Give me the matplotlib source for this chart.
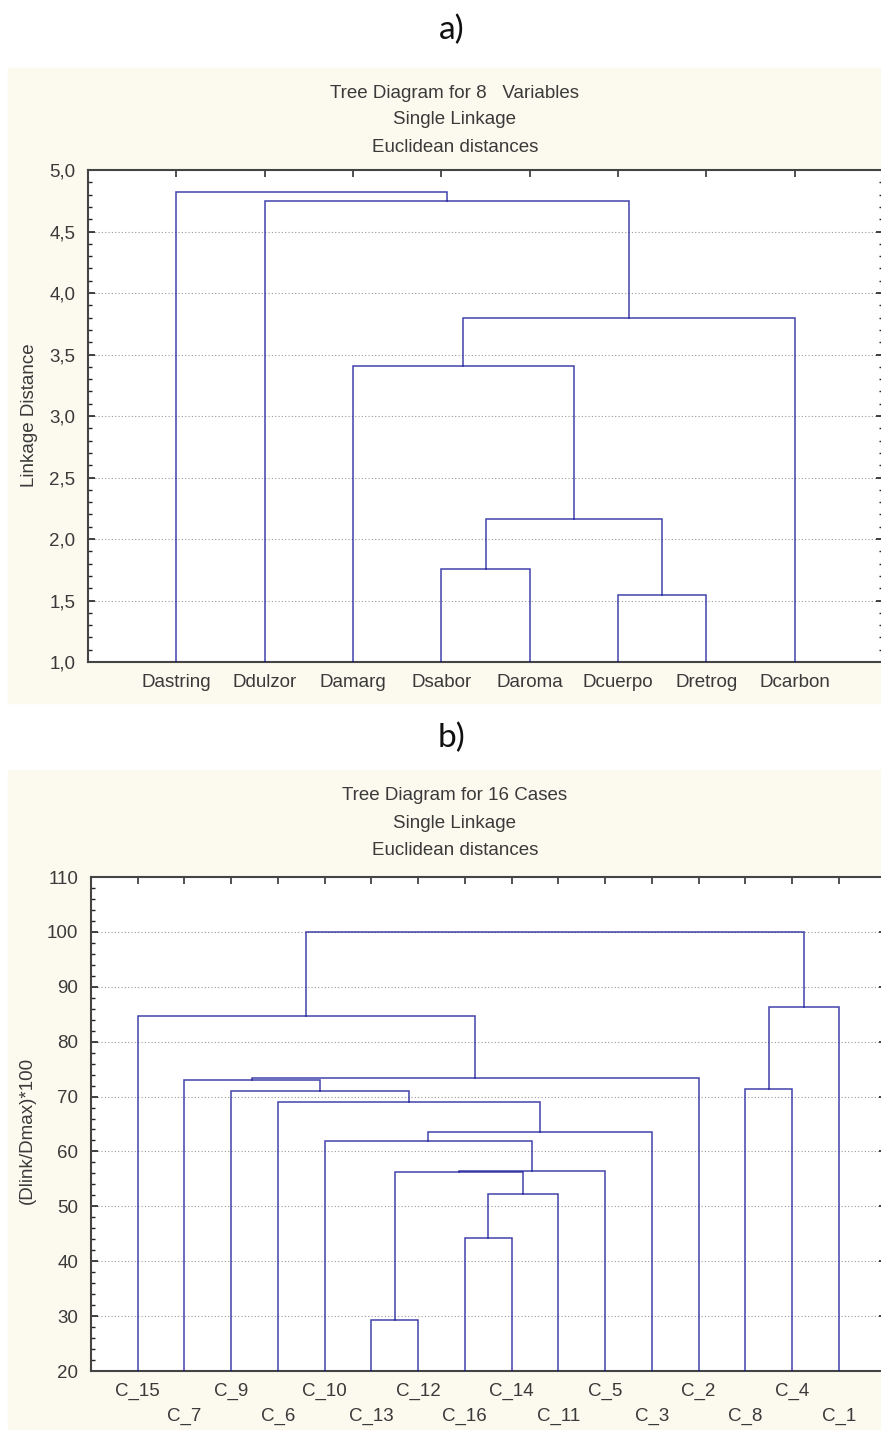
import numpy as np
import matplotlib.pyplot as plt
from matplotlib.patches import Rectangle
from matplotlib.ticker import MultipleLocator, FuncFormatter

W, H = 881, 1430

# panel a) 8 variables
leaves_a = ["Dastring", "Ddulzor", "Damarg", "Dsabor", "Daroma",
            "Dcuerpo", "Dretrog", "Dcarbon"]
left_a = [5, 3, 9, 2, 11, 1, 0]
right_a = [6, 4, 8, 10, 7, 12, 13]
heights_a = [1.545, 1.756, 2.16, 3.41, 3.80, 4.75, 4.82]

# panel b) 16 cases
leaves_b = ["C_15", "C_7", "C_9", "C_6", "C_10", "C_13", "C_12", "C_16",
            "C_14", "C_11", "C_5", "C_3", "C_2", "C_8", "C_4", "C_1"]
left_b = [5, 7, 17, 16, 19, 4, 21, 3, 2, 1, 25, 0, 13, 28, 27]
right_b = [6, 8, 9, 18, 10, 20, 11, 22, 23, 24, 12, 26, 14, 15, 29]
heights_b = [29.3, 44.3, 52.3, 56.2, 56.5, 61.9, 63.6, 69.0, 71.1,
             73.1, 73.4, 84.7, 71.4, 86.4, 100.0]

CREAM = '#fcf9ee'
LINE = (20 / 255, 20 / 255, 150 / 255, 0.8)
TXT = '#3a3a3a'
FS = 13.5

plt.rcParams['font.family'] = 'Liberation Sans'


def fx(px):
    return px / W


def fy(py):
    return 1 - py / H


def draw_tree(ax, n, left, right, heights, base):
    xs = list(np.arange(1, n + 1, dtype=float))
    hs = [base] * n
    for l, r, h in zip(left, right, heights):
        ax.plot([xs[l], xs[l], xs[r], xs[r]], [hs[l], h, h, hs[r]],
                color=LINE, lw=1.1, solid_joinstyle='miter', zorder=3)
        xs.append((xs[l] + xs[r]) / 2)
        hs.append(h)


def setup_axes(ax, n, ymin, ymax, major, minor):
    ax.set_facecolor('white')
    ax.set_xlim(0, n + 1)
    ax.set_ylim(ymin, ymax)
    ax.yaxis.set_major_locator(MultipleLocator(major))
    ax.yaxis.set_minor_locator(MultipleLocator(minor))
    ax.set_xticks(np.arange(1, n + 1))
    ax.set_xticklabels([])
    ax.tick_params(axis='x', which='both', direction='in', top=True,
                   bottom=False, length=5, width=1.2, color='#333333')
    ax.tick_params(axis='y', which='major', direction='in', right=True,
                   length=5, width=1.2, color='#222222', pad=9,
                   labelsize=FS, labelcolor=TXT)
    ax.tick_params(axis='y', which='minor', direction='in', right=True,
                   length=3, width=1.0, color='#222222')
    for s in ax.spines.values():
        s.set_color('#444444')
        s.set_linewidth(1.5)
    ax.grid(axis='y', which='major', linestyle=(0, (1, 2)),
            color='#9a9a9a', lw=0.8, zorder=1)
    ax.set_axisbelow(True)


fig = plt.figure(figsize=(W / 100, H / 100), dpi=100, facecolor='white')

# fondos crema
fig.add_artist(Rectangle((fx(8), fy(703)), fx(881 - 8), (703 - 68) / H,
                         transform=fig.transFigure, color=CREAM, zorder=0))
fig.add_artist(Rectangle((fx(8), fy(1430)), fx(881 - 8), (1430 - 770) / H,
                         transform=fig.transFigure, color=CREAM, zorder=0))

# etiquetas a) b)
fig.text(fx(452), fy(30), "a)", ha='center', va='center',
         fontsize=24, family='Lato', color='#111111')
fig.text(fx(452), fy(738), "b)", ha='center', va='center',
         fontsize=24, family='Lato', color='#111111')

# ---- panel a ----
ax1 = fig.add_axes([fx(88), fy(662), fx(883 - 88), (662 - 170) / H])
setup_axes(ax1, len(leaves_a), 1.0, 5.0, 0.5, 0.1)
ax1.yaxis.set_major_formatter(FuncFormatter(lambda v, p: f"{v:.1f}".replace('.', ',')))
draw_tree(ax1, len(leaves_a), left_a, right_a, heights_a, 1.0)
for i, lab in enumerate(leaves_a):
    ax1.annotate(lab, xy=(i + 1, 0), xycoords=('data', 'axes fraction'),
                 xytext=(0, -15), textcoords='offset points',
                 ha='center', va='center', fontsize=FS, color=TXT)
ax1.set_ylabel("Linkage Distance", fontsize=FS, color=TXT)
ax1.yaxis.set_label_coords((38 - 88) / (883 - 88), (662 - 415) / (662 - 170))

for k, t in enumerate(["Tree Diagram for 8   Variables", "Single Linkage",
                       "Euclidean distances"]):
    fig.text(fx(455), fy(93 + 27 * k), t, ha='center', va='center',
             fontsize=FS, color=TXT)

# ---- panel b ----
ax2 = fig.add_axes([fx(90.8), fy(1371), fx(885.7 - 90.8), (1371 - 877) / H])
setup_axes(ax2, len(leaves_b), 20, 110, 10, 2)
draw_tree(ax2, len(leaves_b), left_b, right_b, heights_b, 20)
for i, lab in enumerate(leaves_b):
    off = -15 if i % 2 == 0 else -33
    ax2.annotate(lab, xy=(i + 1, 0), xycoords=('data', 'axes fraction'),
                 xytext=(0, off), textcoords='offset points',
                 ha='center', va='center', fontsize=FS, color=TXT)
ax2.set_ylabel("(Dlink/Dmax)*100", fontsize=FS, color=TXT)
ax2.yaxis.set_label_coords((36 - 90.8) / (885.7 - 90.8), (1371 - 1130) / (1371 - 877))

for k, t in enumerate(["Tree Diagram for 16 Cases", "Single Linkage",
                       "Euclidean distances"]):
    fig.text(fx(455), fy(795 + 28 * k), t, ha='center', va='center',
             fontsize=FS, color=TXT)

fig.savefig("out.png", dpi=100, facecolor='white')
